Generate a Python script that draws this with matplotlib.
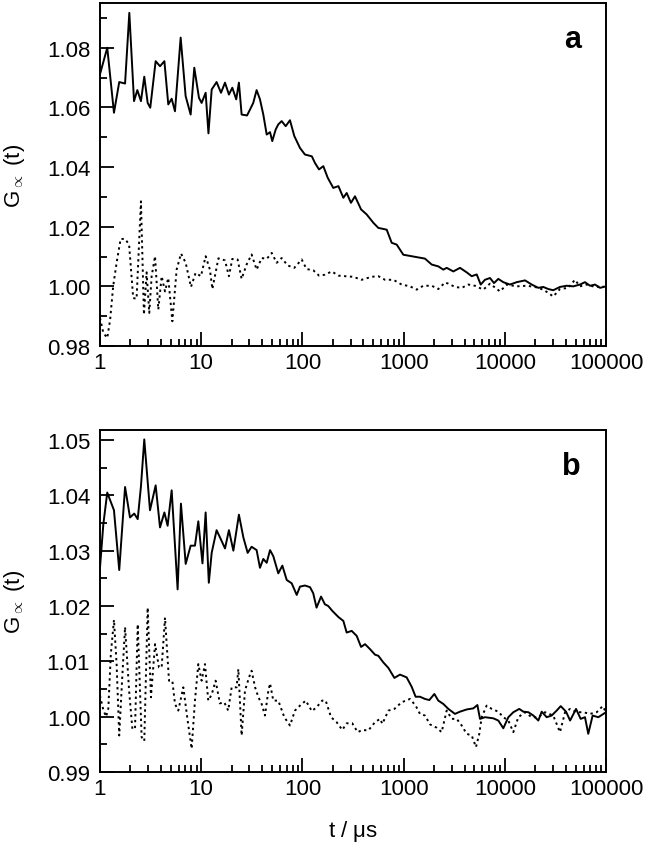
import matplotlib
matplotlib.use("Agg")
import matplotlib.pyplot as plt
from matplotlib.ticker import MultipleLocator, FixedLocator, LogLocator, NullFormatter

plt.rcParams['font.family'] = ['Liberation Sans', 'DejaVu Sans']
plt.rcParams['mathtext.fontset'] = 'custom'
plt.rcParams['mathtext.rm'] = 'Liberation Sans'

# panel a, solid curve
ta_solid = [1, 1.18, 1.375, 1.55, 1.77, 1.95, 2.17, 2.34, 2.54, 2.74, 2.96, 3.14, 3.55, 3.92,
            4.33, 4.73, 5.11, 5.51, 6.27, 7.02, 7.87, 8.55, 9.51, 10.1, 11.07, 11.8, 12.7,
            14.2, 15.7, 17.2, 18.8, 20.3, 22.2, 23.6, 25.1, 28.4, 30.4, 32.7, 35.3, 38.1,
            41.1, 44.4, 47.9, 50.4, 54.5, 57.8, 62.4, 68.4, 75.4, 83.2, 94.7, 106, 124, 133,
            146, 161, 178, 202, 227, 254, 274, 302, 331, 380, 432, 503, 563, 681, 763, 855,
            994, 1114, 1297, 1508, 1627, 1897, 2203, 2468, 2666, 3100, 3610, 4200, 4710,
            5280, 5780, 6370, 7140, 7820, 8630, 9670, 11250, 13100, 15850, 18450, 21450,
            24000, 26900, 30100, 35100, 40800, 47500, 55300, 62000, 69500, 77900, 87300,
            100000]
ga_solid = [1.0711, 1.0800, 1.0582, 1.0685, 1.0680, 1.0917, 1.0621, 1.0658, 1.0621, 1.0703,
            1.0615, 1.0599, 1.0755, 1.0738, 1.0755, 1.0610, 1.0629, 1.0587, 1.0834, 1.0638,
            1.0576, 1.0733, 1.0632, 1.0615, 1.0649, 1.0513, 1.0660, 1.0685, 1.0649, 1.0683,
            1.0643, 1.0666, 1.0627, 1.0683, 1.0576, 1.0573, 1.0593, 1.0615, 1.0658, 1.0627,
            1.0576, 1.0509, 1.0517, 1.0487, 1.0526, 1.0543, 1.0554, 1.0537, 1.0557, 1.0504,
            1.0464, 1.0442, 1.0436, 1.0414, 1.0392, 1.0403, 1.0364, 1.0330, 1.0336, 1.0297,
            1.0313, 1.0280, 1.0302, 1.0258, 1.0241, 1.0213, 1.0196, 1.0190, 1.0146, 1.0140,
            1.0106, 1.0103, 1.0099, 1.0095, 1.0093, 1.0073, 1.0067, 1.0056, 1.0062, 1.0050,
            1.0062, 1.0047, 1.0034, 1.0040, 1.0006, 1.0022, 1.0028, 1.0011, 1.0025, 1.0014,
            1.0006, 1.0014, 1.0020, 1.0006, 0.9995, 0.9998, 0.9991, 0.9987, 0.9998, 1.0002,
            1.0000, 1.0006, 1.0014, 1.0002, 1.0006, 0.9995, 1.0000]

# panel a, dotted curve
ta_dot = [1, 1.08, 1.18, 1.26, 1.35, 1.46, 1.6, 1.77, 1.94, 2.13, 2.3, 2.54, 2.72, 2.89, 3.07,
          3.24, 3.5, 3.77, 4.07, 4.39, 4.73, 5.19, 5.72, 6.32, 7.03, 7.93, 8.81, 9.95, 11.07,
          12.2, 12.9, 14.8, 17.2, 18.8, 20.3, 22.9, 25.1, 28.1, 31.5, 35.3, 39.6, 44.4, 49.8,
          55.7, 62.4, 71.6, 83.2, 98.4, 110, 128, 146, 167, 195, 227, 264, 318, 385, 483, 563,
          655, 792, 957, 1157, 1346, 1567, 1897, 2203, 2569, 2770, 3220, 3750, 4360, 5070,
          6130, 7140, 8970, 10450, 13100, 16450, 19850, 24000, 26900, 30100, 35100, 42400,
          49300, 55300, 64400, 77900, 94200]
ga_dot = [0.9894, 0.9844, 0.9827, 0.9888, 1.0000, 1.0079, 1.0159, 1.0159, 1.0140, 0.9961,
          0.9958, 1.0285, 0.9905, 1.0047, 0.9911, 1.0034, 1.0101, 0.9922, 1.0034, 0.9983,
          1.0028, 0.9883, 1.0056, 1.0110, 1.0079, 0.9998, 1.0045, 1.0034, 1.0101, 1.0056,
          0.9991, 1.0094, 1.0087, 1.0034, 1.0092, 1.0090, 1.0025, 1.0073, 1.0107, 1.0056,
          1.0095, 1.0092, 1.0112, 1.0079, 1.0095, 1.0070, 1.0062, 1.0090, 1.0058, 1.0054,
          1.0036, 1.0039, 1.0050, 1.0036, 1.0034, 1.0032, 1.0022, 1.0032, 1.0034, 1.0022,
          1.0022, 1.0006, 1.0000, 0.9989, 1.0002, 1.0002, 0.9991, 1.0013, 1.0009, 0.9998,
          0.9995, 1.0006, 1.0002, 0.9989, 1.0009, 0.9983, 1.0006, 1.0000, 1.0002, 0.9998,
          0.9989, 0.9978, 0.9966, 0.9991, 0.9995, 1.0022, 1.0000, 1.0006, 0.9998, 1.0000]

# panel b, solid curve
tb_solid = [1, 1.08, 1.18, 1.375, 1.55, 1.77, 1.98, 2.18, 2.36, 2.54, 2.74, 3.12, 3.55, 3.92,
            4.33, 4.66, 5.11, 5.85, 6.31, 7.03, 7.87, 8.68, 9.37, 10.3, 11.07, 11.9, 12.7,
            14.2, 15.7, 17.2, 18.8, 20.8, 23.6, 26.1, 28.8, 31.5, 35.3, 38.1, 41.1, 44.4,
            47.9, 51.6, 57.8, 63.4, 70, 78.4, 87.9, 94.7, 106, 119, 128, 138, 153, 167, 180,
            198, 227, 254, 274, 307, 344, 380, 416, 466, 522, 563, 631, 708, 811, 921, 1072,
            1202, 1315, 1452, 1627, 1795, 2014, 2203, 2468, 2770, 3220, 3610, 4200, 4890,
            5360, 5690, 6370, 7700, 8630, 9670, 10840, 12140, 13900, 15240, 17100, 19150,
            21450, 23150, 25950, 29050, 32550, 35700, 40300, 44200, 50600, 56200, 62000,
            66800, 73800, 84000, 100000]
gb_solid = [1.0269, 1.0348, 1.0405, 1.0373, 1.0265, 1.0415, 1.0360, 1.0367, 1.0357, 1.0416,
            1.0501, 1.0373, 1.0418, 1.0342, 1.0369, 1.0345, 1.0409, 1.0230, 1.0385, 1.0276,
            1.0309, 1.0309, 1.0353, 1.0277, 1.0369, 1.0242, 1.0296, 1.0337, 1.0320, 1.0304,
            1.0337, 1.0300, 1.0365, 1.0324, 1.0296, 1.0307, 1.0301, 1.0269, 1.0285, 1.0278,
            1.0301, 1.0290, 1.0259, 1.0273, 1.0247, 1.0241, 1.0220, 1.0235, 1.0237, 1.0234,
            1.0223, 1.0197, 1.0217, 1.0203, 1.0200, 1.0191, 1.0180, 1.0173, 1.0152, 1.0155,
            1.0146, 1.0126, 1.0131, 1.0122, 1.0112, 1.0110, 1.0098, 1.0088, 1.0070, 1.0076,
            1.0071, 1.0054, 1.0036, 1.0036, 1.0032, 1.0030, 1.0041, 1.0029, 1.0023, 1.0014,
            1.0005, 1.0009, 1.0013, 1.0015, 1.0021, 0.9996, 0.9999, 0.9997, 0.9993, 0.9979,
            0.9999, 1.0008, 1.0014, 1.0009, 1.0008, 1.0002, 0.9993, 1.0009, 0.9999, 1.0002,
            1.0011, 1.0019, 1.0009, 0.9993, 1.0014, 0.9996, 0.9999, 0.9969, 1.0002, 0.9999,
            1.0008]

# panel b, dotted curve
tb_dot = [1, 1.08, 1.15, 1.21, 1.28, 1.375, 1.46, 1.55, 1.66, 1.77, 1.94, 2.09, 2.22, 2.36,
          2.58, 2.74, 2.96, 3.19, 3.5, 3.83, 4.07, 4.39, 4.81, 5.19, 5.51, 5.94, 6.66, 7.35,
          8.05, 8.68, 9.37, 10.1, 10.9, 11.75, 12.7, 13.9, 15.3, 16.9, 18.5, 20, 22.4, 23.3,
          25.1, 27.1, 29.7, 31.5, 34.1, 36.8, 39.6, 42.7, 46.1, 47.9, 51.6, 57.8, 66.3, 75.4,
          84.5, 94.7, 108, 124, 138, 157, 170, 192, 218, 248, 274, 311, 352, 391, 448, 522,
          585, 617, 708, 811, 957, 1157, 1315, 1452, 1627, 1824, 2123, 2377, 2666, 2988,
          3350, 3750, 4200, 4710, 5190, 5600, 5910, 6620, 7430, 8630, 9670, 10840, 12140,
          13600, 15850, 18450, 21450, 24950, 30100, 35100, 39400, 44200, 51400, 59700,
          69500, 80900, 92700, 100000]
gb_dot = [1.0038, 1.0012, 1.0000, 1.0015, 1.0113, 1.0175, 1.0095, 0.9966, 1.0071, 1.0162,
          1.0047, 0.9978, 0.9978, 1.0167, 0.9963, 0.9956, 1.0197, 1.0035, 1.0131, 1.0089,
          1.0089, 1.0179, 1.0065, 1.0065, 1.0023, 1.0011, 1.0053, 0.9993, 0.9942, 1.0029,
          1.0095, 1.0065, 1.0095, 1.0029, 1.0040, 1.0065, 1.0024, 1.0026, 1.0011, 1.0053,
          1.0053, 1.0086, 0.9966, 1.0047, 1.0071, 1.0083, 1.0053, 1.0035, 1.0023, 1.0002,
          1.0047, 1.0060, 1.0029, 1.0029, 0.9999, 0.9984, 1.0011, 1.0020, 1.0029, 1.0010,
          1.0017, 1.0029, 1.0029, 0.9999, 0.9990, 0.9976, 0.9988, 0.9988, 0.9972, 0.9976,
          0.9975, 0.9990, 0.9996, 0.9987, 1.0011, 1.0014, 1.0026, 1.0032, 1.0020, 1.0005,
          1.0002, 0.9986, 0.9980, 0.9972, 1.0011, 0.9996, 0.9996, 0.9984, 0.9969, 0.9966,
          0.9945, 0.9969, 0.9999, 1.0020, 1.0014, 1.0009, 0.9999, 0.9993, 0.9972, 0.9999,
          1.0008, 0.9999, 0.9999, 1.0008, 1.0002, 0.9972, 1.0008, 1.0014, 1.0008, 1.0008,
          1.0005, 1.0008, 1.0019, 1.0008]

xticks = [1, 10, 100, 1000, 10000, 100000]
xticklabels = ["1", "10", "100", "1000", "10000", "100000"]

fig = plt.figure(figsize=(6.5, 8.53), dpi=100)
ax_a = fig.add_axes([0.1538, 0.5932, 0.7785, 0.4021])
ax_b = fig.add_axes([0.1538, 0.0938, 0.7785, 0.4009])

panels = [
    (ax_a, ta_solid, ga_solid, ta_dot, ga_dot, (0.98, 1.095), 0.02, 0.01, "a"),
    (ax_b, tb_solid, gb_solid, tb_dot, gb_dot, (0.99, 1.0518), 0.01, 0.005, "b"),
]

for ax, ts, gs, td, gd, ylim, major, minor, tag in panels:
    ax.plot(ts, gs, color="black", lw=1.4)
    ax.plot(td, gd, color="black", lw=1.4, linestyle=(0, (1.2, 1.8)))
    ax.set_xscale("log")
    ax.set_xlim(1, 100000)
    ax.set_ylim(*ylim)
    ax.xaxis.set_major_locator(FixedLocator(xticks))
    ax.set_xticklabels(xticklabels)
    ax.xaxis.set_minor_locator(LogLocator(base=10, subs=range(2, 10), numticks=20))
    ax.xaxis.set_minor_formatter(NullFormatter())
    ax.yaxis.set_major_locator(MultipleLocator(major))
    ax.yaxis.set_minor_locator(MultipleLocator(minor))
    ax.yaxis.set_major_formatter(matplotlib.ticker.FormatStrFormatter("%.2f"))
    ax.tick_params(which="both", direction="in", top=False, right=False, width=1.3,
                   labelsize=16)
    ax.tick_params(which="major", length=10)
    ax.tick_params(which="minor", length=5)
    ax.tick_params(axis="x", pad=4)
    ax.tick_params(axis="y", pad=7)
    for s in ax.spines.values():
        s.set_linewidth(1.4)
    ax.set_ylabel(r"G$_{\propto}$ (t)", fontsize=16, labelpad=14)
    ax.text(0.95, 0.94, tag, transform=ax.transAxes, ha="right", va="top",
            fontsize=22, fontweight="bold")

ax_b.set_xlabel(r"t / $\mathregular{\mu}$s", fontsize=16, labelpad=14)

fig.savefig("out.png", dpi=100)
